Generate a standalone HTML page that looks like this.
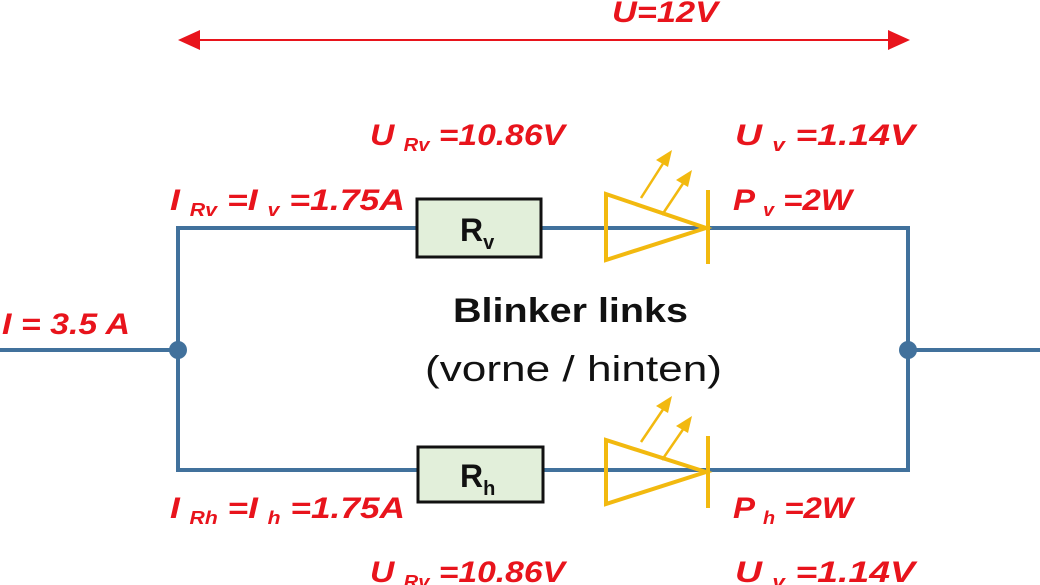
<!DOCTYPE html>
<html><head><meta charset="utf-8"><style>
html,body{margin:0;padding:0;background:#fff;width:1040px;height:585px;overflow:hidden}
svg{display:block}
.r{font-family:"Liberation Sans",sans-serif;font-weight:bold;font-style:italic;fill:#e8141c;font-size:30px}
.s{font-size:18px}
</style></head><body>
<svg width="1040" height="585" viewBox="0 0 1040 585">
<line x1="195" y1="40" x2="895" y2="40" stroke="#e8141c" stroke-width="2"/>
<polygon points="178,40 200,30 200,50" fill="#e8141c"/>
<polygon points="910,40 888,30 888,50" fill="#e8141c"/>
<text class="r" x="612" y="22" textLength="106" lengthAdjust="spacingAndGlyphs">U=12V</text>

<g stroke="#41719c" stroke-width="4" fill="none">
<rect x="178" y="228" width="730" height="242"/>
<line x1="0" y1="350" x2="178" y2="350"/>
<line x1="908" y1="350" x2="1040" y2="350"/>
</g>
<circle cx="178" cy="350" r="9" fill="#41719c"/>
<circle cx="908" cy="350" r="9" fill="#41719c"/>

<rect x="417" y="199" width="124" height="58" fill="#e2efda" stroke="#111" stroke-width="3"/>
<text x="460" y="241" font-family="Liberation Sans,sans-serif" font-weight="bold" font-size="32" fill="#111">R<tspan font-size="20" dy="8">v</tspan></text>
<rect x="418" y="447" width="125" height="55" fill="#e2efda" stroke="#111" stroke-width="3"/>
<text x="460" y="487" font-family="Liberation Sans,sans-serif" font-weight="bold" font-size="32" fill="#111">R<tspan font-size="20" dy="8">h</tspan></text>

<g stroke="#f2b90f" stroke-width="4" fill="none">
<polygon points="606,194 606,260 706,228"/>
<line x1="708" y1="190" x2="708" y2="264"/>
<polygon points="606,440 606,504 706,472"/>
<line x1="708" y1="436" x2="708" y2="508"/>
</g>
<g stroke="#f2b90f" stroke-width="2.5">
<line x1="641" y1="198" x2="664" y2="162"/>
<line x1="662" y1="215" x2="684" y2="182"/>
<line x1="641" y1="442" x2="664" y2="408"/>
<line x1="662" y1="460" x2="684" y2="428"/>
</g>
<g fill="#f2b90f">
<polygon points="672,150 656,160 668,167"/>
<polygon points="692,170 676,180 688,187"/>
<polygon points="672,396 656,406 668,413"/>
<polygon points="692,416 676,426 688,433"/>
</g>

<text class="r" x="370" y="145" textLength="195" lengthAdjust="spacingAndGlyphs">U <tspan class="s" dy="6">Rv</tspan><tspan dy="-6"> =10.86V</tspan></text>
<text class="r" x="735" y="145" textLength="180" lengthAdjust="spacingAndGlyphs">U <tspan class="s" dy="6">v</tspan><tspan dy="-6"> =1.14V</tspan></text>
<text class="r" x="170" y="210" textLength="235" lengthAdjust="spacingAndGlyphs">I <tspan class="s" dy="6">Rv</tspan><tspan dy="-6"> =I </tspan><tspan class="s" dy="6">v</tspan><tspan dy="-6"> =1.75A</tspan></text>
<text class="r" x="733" y="210" textLength="119" lengthAdjust="spacingAndGlyphs">P <tspan class="s" dy="6">v</tspan><tspan dy="-6"> =2W</tspan></text>
<text class="r" x="2" y="334" textLength="128" lengthAdjust="spacingAndGlyphs">I = 3.5 A</text>
<text class="r" x="170" y="518" textLength="235" lengthAdjust="spacingAndGlyphs">I <tspan class="s" dy="6">Rh</tspan><tspan dy="-6"> =I </tspan><tspan class="s" dy="6">h</tspan><tspan dy="-6"> =1.75A</tspan></text>
<text class="r" x="733" y="518" textLength="120" lengthAdjust="spacingAndGlyphs">P <tspan class="s" dy="6">h</tspan><tspan dy="-6"> =2W</tspan></text>
<text class="r" x="370" y="582" textLength="195" lengthAdjust="spacingAndGlyphs">U <tspan class="s" dy="6">Rv</tspan><tspan dy="-6"> =10.86V</tspan></text>
<text class="r" x="735" y="582" textLength="180" lengthAdjust="spacingAndGlyphs">U <tspan class="s" dy="6">v</tspan><tspan dy="-6"> =1.14V</tspan></text>

<text x="453" y="322" font-family="Liberation Sans,sans-serif" font-weight="bold" font-size="34" fill="#111" textLength="235" lengthAdjust="spacingAndGlyphs">Blinker links</text>
<text x="425" y="381" font-family="Liberation Sans,sans-serif" font-size="36" fill="#111" textLength="297" lengthAdjust="spacingAndGlyphs">(vorne / hinten)</text>
</svg>
</body></html>
